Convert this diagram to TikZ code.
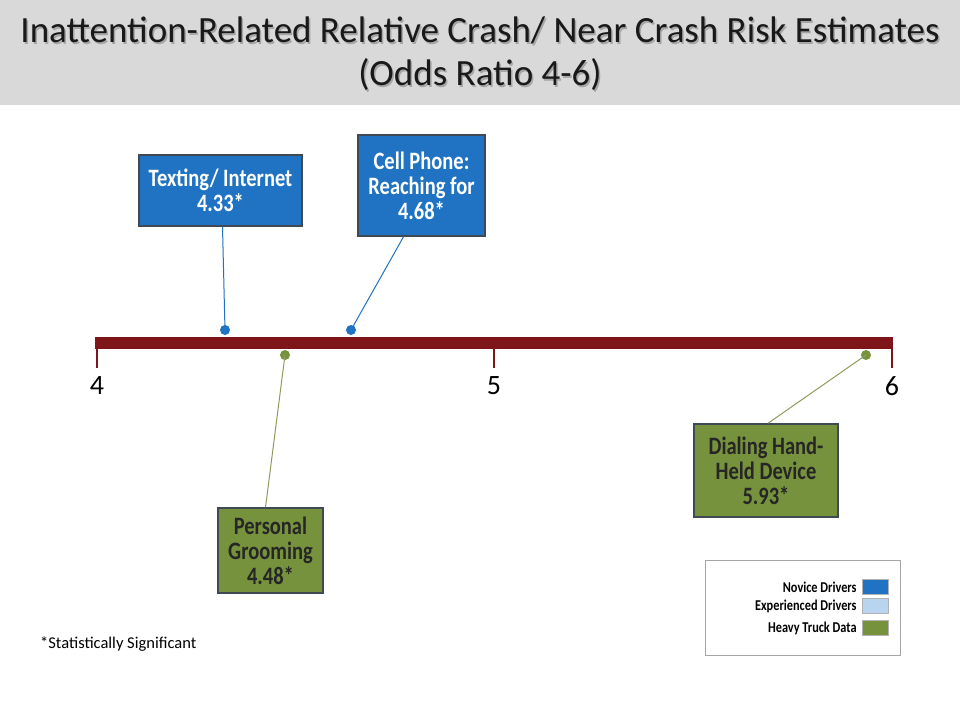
\documentclass[tikz,border=0pt]{standalone}
\usepackage{fontspec}
\setmainfont{Carlito}
\newfontfamily\condfont[FakeStretch=0.82]{Carlito}
\usetikzlibrary{positioning}
\definecolor{axisred}{HTML}{7E1518}
\definecolor{novice}{HTML}{1F73C2}
\definecolor{experienced}{HTML}{B8D4EE}
\definecolor{truck}{HTML}{76923C}
\definecolor{truckline}{HTML}{8E9C5E}
\definecolor{titlegray}{HTML}{D9D9D9}
\definecolor{boxedge}{HTML}{3F4A55}

\begin{document}
\begin{tikzpicture}[x=1pt,y=-1pt,
	note/.style={draw=boxedge, line width=1.5pt, align=center, inner sep=0pt,
		font=\condfont\bfseries\fontsize{25}{25}\selectfont},
	dot/.style={circle, inner sep=0pt, minimum size=10pt},
	ticklabel/.style={font=\fontsize{28}{28}\selectfont},
	legtext/.style={font=\condfont\bfseries\fontsize{15}{15}\selectfont, inner sep=0pt},
	swatch/.style={draw=gray!60, minimum width=26pt, minimum height=15pt, inner sep=0pt}]
	\useasboundingbox[fill=white] (0,0) rectangle (960,720);
	%\draw[help lines] (0,0) grid[step=40] (960,720);
	% title band
	\fill[titlegray] (0,0) rectangle (960,105);
	\node[align=center, text=black!35, font=\fontsize{37}{43}\selectfont] (titleshadow) at (481.5,55.5) {Inattention-Related Relative Crash/ Near Crash Risk Estimates\\(Odds Ratio 4-6)};
	\node[align=center, text=black!90, font=\fontsize{37}{43}\selectfont] (title) at (480,54) {Inattention-Related Relative Crash/ Near Crash Risk Estimates\\(Odds Ratio 4-6)};
	% axis
	\fill[axisred] (95,337) rectangle (893,349);
	\foreach \v/\x in {4/97,5/494,6/892}{
		\draw[axisred, line width=2pt] (\x,343) -- (\x,368);
		\node[ticklabel] (tick\v) at (\x,386) {\v};
	}
	% points on the axis
	\node[dot, fill=novice] (p433) at (225,330) {};
	\node[dot, fill=novice] (p468) at (351,330) {};
	\node[dot, fill=truck] (p448) at (285,355) {};
	\node[dot, fill=truck] (p593) at (866,355) {};
	% labels
	\node[note, fill=novice, text=white, minimum width=163pt, minimum height=71pt] (texting) at (220.5,190.5) {Texting/ Internet\\4.33*};
	\node[note, fill=novice, text=white, minimum width=127pt, minimum height=101pt] (cellphone) at (421.5,185.5) {Cell Phone:\\Reaching for\\4.68*};
	\node[note, fill=truck, text=black!85, minimum width=105pt, minimum height=85pt] (grooming) at (270.5,550.5) {Personal\\Grooming\\4.48*};
	\node[note, fill=truck, text=black!85, minimum width=144pt, minimum height=93pt] (dialing) at (766,470.5) {Dialing Hand-\\Held Device\\5.93*};
	\draw[novice, line width=1pt] ([xshift=2pt]texting.south) -- (p433.center);
	\draw[novice, line width=1pt] ([xshift=-18pt]cellphone.south) -- (p468.center);
	\draw[truckline, line width=1pt] ([xshift=-5pt]grooming.north) -- (p448.center);
	\draw[truckline, line width=1pt] ([xshift=2pt]dialing.north) -- (p593.center);
	% legend
	\node[draw=gray!70, line width=0.8pt, minimum width=195pt, minimum height=95pt] (legend) at (802.5,607.5) {};
	\node[swatch, fill=novice] (swnovice) at (875,587) {};
	\node[swatch, fill=experienced] (swexp) at (875,606) {};
	\node[swatch, fill=truck] (swtruck) at (875,628) {};
	\node[legtext, left=5pt of swnovice] (lgnovice) {Novice Drivers};
	\node[legtext, left=5pt of swexp] (lgexp) {Experienced Drivers};
	\node[legtext, left=5pt of swtruck] (lgtruck) {Heavy Truck Data};
	% footnote
	\node[anchor=west, inner sep=0pt, font=\fontsize{16.5}{16.5}\selectfont] (footnote) at (40,644) {*Statistically Significant};
\end{tikzpicture}
\end{document}
